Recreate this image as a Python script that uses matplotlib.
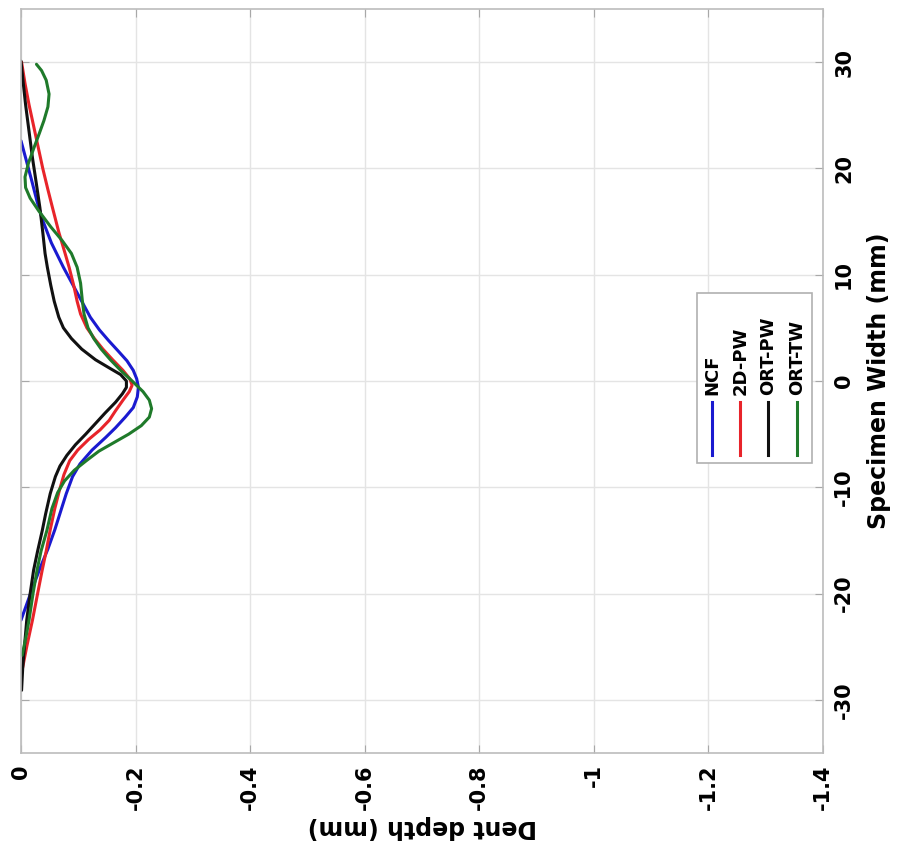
# dent depth profiles across the specimen width
# figure is shown turned on its side: depth runs left->right, width bottom->top

import numpy as np
import matplotlib.pyplot as plt

plt.rcParams['font.family'] = 'DejaVu Sans'
plt.rcParams['font.weight'] = 'bold'

series_names = ["NCF", "2D-PW", "ORT-PW", "ORT-TW"]
series_colors = ["#1a1ad0", "#e8242a", "#111111", "#1f7a2a"]

# specimen width (mm) and dent depth (mm)
ncf_width = [22.6, 21.0, 19.0, 16.9, 15.1, 13.0, 10.7, 9.0, 7.5, 6.0, 4.8, 3.8,
             2.8, 1.9, 1.0, 0.2, -0.6, -1.5, -2.5, -3.4, -4.4, -5.3, -6.5, -7.8,
             -9.0, -10.6, -12.3, -14.0, -15.8, -17.5, -19.5, -21.0, -22.5]
ncf_depth = [0.0, -0.008, -0.018, -0.028, -0.038, -0.053, -0.074, -0.091, -0.106,
             -0.121, -0.137, -0.153, -0.170, -0.185, -0.196, -0.202, -0.205,
             -0.203, -0.196, -0.182, -0.165, -0.148, -0.124, -0.103, -0.090,
             -0.079, -0.069, -0.059, -0.047, -0.034, -0.020, -0.010, 0.0]

pw2d_width = [30.0, 28.0, 26.0, 24.0, 22.0, 20.0, 18.0, 16.3, 14.0, 12.0, 10.7,
              9.0, 7.5, 6.3, 5.0, 4.0, 3.0, 2.0, 1.0, 0.2, -0.4, -1.0, -1.8, -2.8,
              -3.7, -4.6, -5.5, -6.5, -7.5, -8.8, -10.3, -12.0, -14.0, -16.0,
              -17.8, -20.0, -22.5, -25.0, -27.2]
pw2d_depth = [-0.001, -0.007, -0.014, -0.022, -0.030, -0.038, -0.047, -0.055,
              -0.066, -0.077, -0.084, -0.092, -0.098, -0.104, -0.115, -0.128,
              -0.143, -0.160, -0.178, -0.190, -0.194, -0.189, -0.178, -0.165,
              -0.154, -0.138, -0.118, -0.099, -0.085, -0.075, -0.067, -0.059,
              -0.051, -0.044, -0.037, -0.029, -0.020, -0.010, -0.002]

ortpw_width = [30.1, 28.0, 26.0, 23.5, 21.0, 18.5, 16.3, 14.0, 12.0, 10.7, 9.0,
               7.5, 6.0, 5.0, 4.0, 3.0, 2.0, 1.2, 0.6, 0.0, -0.6, -1.2, -2.0, -3.0,
               -4.0, -5.0, -6.0, -7.0, -8.0, -9.0, -10.6, -12.5, -14.1, -16.0,
               -17.8, -20.0, -22.5, -25.0, -27.0, -29.1]
ortpw_depth = [0.0, -0.004, -0.008, -0.014, -0.020, -0.027, -0.033, -0.038,
               -0.042, -0.046, -0.052, -0.058, -0.066, -0.074, -0.088, -0.106,
               -0.130, -0.155, -0.174, -0.184, -0.184, -0.177, -0.165, -0.147,
               -0.130, -0.113, -0.095, -0.080, -0.068, -0.060, -0.051, -0.043,
               -0.037, -0.029, -0.022, -0.016, -0.010, -0.006, -0.003, -0.001]

orttw_width = [29.8, 29.2, 28.3, 27.0, 25.8, 24.5, 23.3, 22.0, 20.5, 19.2, 18.2,
               17.2, 16.0, 14.5, 13.2, 12.0, 10.7, 9.2, 7.6, 6.3, 5.0, 4.0, 3.0,
               2.0, 1.0, 0.0, -1.0, -1.8, -2.6, -3.4, -4.2, -5.0, -5.8, -6.6,
               -7.5, -8.4, -9.4, -10.5, -12.0, -14.1, -16.0, -17.8, -20.0, -22.5,
               -24.0, -25.8]
orttw_depth = [-0.027, -0.036, -0.044, -0.049, -0.047, -0.040, -0.032, -0.023,
               -0.013, -0.007, -0.008, -0.016, -0.031, -0.052, -0.072, -0.088,
               -0.098, -0.104, -0.107, -0.110, -0.117, -0.127, -0.140, -0.156,
               -0.174, -0.194, -0.213, -0.224, -0.228, -0.224, -0.210, -0.188,
               -0.162, -0.136, -0.114, -0.093, -0.076, -0.064, -0.054, -0.045,
               -0.035, -0.028, -0.021, -0.014, -0.009, -0.002]

depth_ticks = [0, -0.2, -0.4, -0.6, -0.8, -1, -1.2, -1.4]
depth_labels = ["0", "-0.2", "-0.4", "-0.6", "-0.8", "-1", "-1.2", "-1.4"]
width_ticks = [-30, -20, -10, 0, 10, 20, 30]

widths = [ncf_width, pw2d_width, ortpw_width, orttw_width]
depths = [ncf_depth, pw2d_depth, ortpw_depth, orttw_depth]

fig = plt.figure(figsize=(9.15, 8.57), dpi=100)
ax = fig.add_axes([21/915, 1 - 753/857, 802/915, 744/857])

for w, d, c in zip(widths, depths, series_colors):
    ax.plot(d, w, color=c, lw=2.2, solid_capstyle='round', solid_joinstyle='round')

ax.set_xlim(0, -1.4)
ax.set_ylim(-35, 35)
ax.set_xticks(depth_ticks)
ax.set_xticklabels(depth_labels, rotation=90, fontsize=15, fontweight='bold')
ax.set_yticks(width_ticks)
ax.yaxis.tick_right()
ax.yaxis.set_label_position('right')
ax.set_yticklabels([str(t) for t in width_ticks], rotation=90, va='center',
                   fontsize=15, fontweight='bold')

ax.grid(True, color='#e4e4e4', lw=1)
ax.set_axisbelow(True)
for s in ax.spines.values():
    s.set_color('#bcbcbc')
    s.set_linewidth(1.2)
ax.tick_params(direction='in', length=6, color='#a8a8a8', top=True, bottom=True,
               left=True, right=True, labelleft=False, labeltop=False, pad=8)

ax.set_xlabel("Dent depth (mm)", fontsize=17, fontweight='bold', rotation=180,
              labelpad=4)
ax.set_ylabel("Specimen Width (mm)", fontsize=17, fontweight='bold', rotation=90,
              labelpad=9)

# legend, built by hand so it can be turned with the rest
box = plt.Rectangle((0.843, 0.39), 0.143, 0.228, transform=ax.transAxes,
                    facecolor='white', edgecolor='#b0b0b0', lw=1.2, zorder=5)
ax.add_patch(box)
leg_x = [0.862, 0.897, 0.932, 0.968]
for lx, name, c in zip(leg_x, series_names, series_colors):
    ax.plot([lx, lx], [0.401, 0.472], transform=ax.transAxes, color=c, lw=2.2,
            zorder=6)
    ax.text(lx, 0.481, name, transform=ax.transAxes, rotation=90, ha='center',
            va='bottom', fontsize=13, fontweight='bold', zorder=6)

fig.savefig("out.png", dpi=100)
